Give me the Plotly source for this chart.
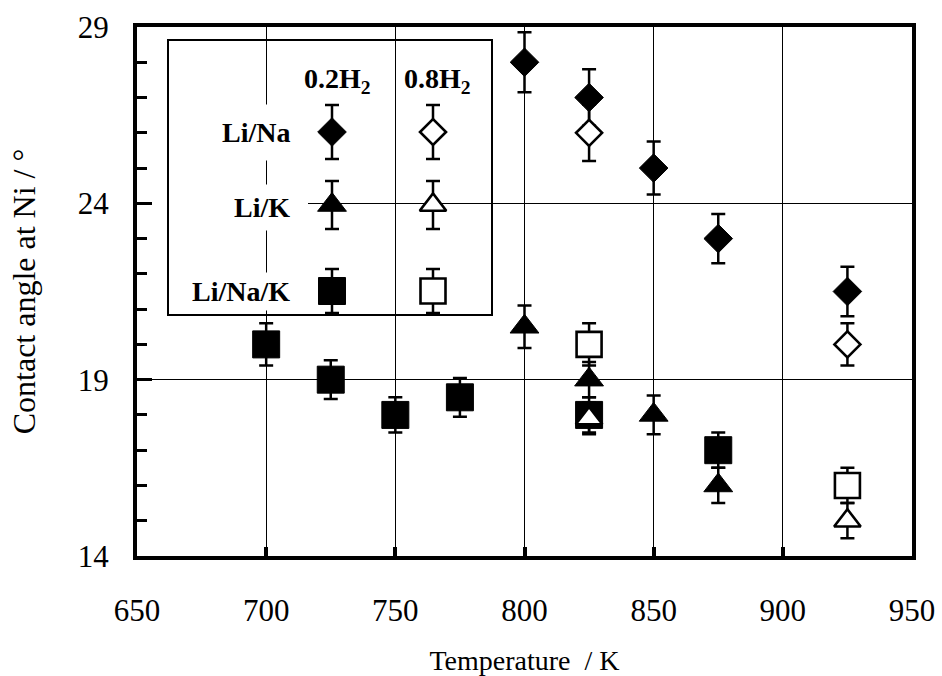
import plotly.graph_objects as go

# ---------------- data ----------------
# Li/Na, 0.2 H2 (filled diamonds)
t_na_02 = [800, 825, 850, 875, 925]
a_na_02 = [28.0, 27.0, 25.0, 23.0, 21.5]
e_na_02 = [0.85, 0.8, 0.75, 0.7, 0.7]
# Li/Na, 0.8 H2 (open diamonds)
t_na_08 = [825, 925]
a_na_08 = [26.0, 20.0]
e_na_08 = [0.8, 0.6]
# Li/K, 0.2 H2 (filled triangles)
t_k_02 = [800, 825, 850, 875]
a_k_02 = [20.5, 19.0, 18.0, 16.0]
e_k_02 = [0.6, 0.5, 0.55, 0.5]
# Li/K, 0.8 H2 (open triangles)
t_k_08 = [825, 925]
a_k_08 = [17.9, 15.0]
e_k_08 = [0.45, 0.5]
# Li/Na/K, 0.2 H2 (filled squares)
t_nak_02 = [700, 725, 750, 775, 825, 875]
a_nak_02 = [20.0, 19.0, 18.0, 18.5, 18.0, 17.0]
e_nak_02 = [0.6, 0.55, 0.5, 0.55, 0.5, 0.5]
# Li/Na/K, 0.8 H2 (open squares)
t_nak_08 = [825, 925]
a_nak_08 = [20.0, 16.0]
e_nak_08 = [0.6, 0.5]

x_ticks = [650, 700, 750, 800, 850, 900, 950]
y_ticks = [14, 19, 24, 29]
row_labels = ["Li/Na", "Li/K", "Li/Na/K"]
col_labels = ["0.2H<sub>2</sub>", "0.8H<sub>2</sub>"]

# ---------------- styling ----------------
FONT = "Liberation Serif"
W, H = 942, 676
ML, MR, MT, MB = 137, 30, 27, 120
PX_L, PX_R, PX_T, PX_B = ML, W - MR, MT, H - MB
X_RANGE = [650, 950]
Y_RANGE = [14, 29]

def px_to_x(px):
    return X_RANGE[0] + (px - PX_L) / (PX_R - PX_L) * (X_RANGE[1] - X_RANGE[0])

def py_to_y(py):
    return Y_RANGE[0] + (PX_B - py) / (PX_B - PX_T) * (Y_RANGE[1] - Y_RANGE[0])

ERR = dict(type="data", color="black", thickness=2.5, width=7)

def style(symbol, filled, size):
    if filled:
        return dict(symbol=symbol, size=size, color="black",
                    line=dict(color="black", width=1))
    return dict(symbol=symbol, size=size - 2, color="white",
                line=dict(color="black", width=2.6))

series = [
    (t_nak_02, a_nak_02, e_nak_02, "square", True, 27, "Li/Na/K 0.2H2"),
    (t_nak_08, a_nak_08, e_nak_08, "square", False, 27, "Li/Na/K 0.8H2"),
    (t_k_02, a_k_02, e_k_02, "triangle-up", True, 25, "Li/K 0.2H2"),
    (t_k_08, a_k_08, e_k_08, "triangle-up", False, 25, "Li/K 0.8H2"),
    (t_na_02, a_na_02, e_na_02, "diamond", True, 22, "Li/Na 0.2H2"),
    (t_na_08, a_na_08, e_na_08, "diamond", False, 22, "Li/Na 0.8H2"),
]

fig = go.Figure()

for xs, ys, es, sym, filled, size, name in series:
    fig.add_trace(go.Scatter(
        x=xs, y=ys, mode="markers", name=name, showlegend=False,
        marker=style(sym, filled, size),
        error_y=dict(array=es, **ERR),
        cliponaxis=False,
    ))

# ---------------- custom legend (pixel overlay axes) ----------------
leg_cols = [332, 433]
leg_rows = [132, 205, 291]
leg_err = [27, 24, 22]
leg_sym = [("diamond", 22), ("triangle-up", 25), ("square", 27)]
for r, (sym, size) in enumerate(leg_sym):
    for c, filled in enumerate([True, False]):
        fig.add_trace(go.Scatter(
            x=[leg_cols[c]], y=[leg_rows[r]], xaxis="x2", yaxis="y2",
            mode="markers", showlegend=False, hoverinfo="skip",
            marker=style(sym, filled, size),
            error_y=dict(type="data", array=[leg_err[r]], color="black",
                         thickness=2.5, width=7),
            cliponaxis=False,
        ))

annotations = []
label_pads = [12, 7, 3]
for r, lab in enumerate(row_labels):
    annotations.append(dict(
        x=291 + label_pads[r], y=leg_rows[r] + (2 if r == 1 else 0),
        xref="x2", yref="y2",
        text="<b>%s</b>" % lab, showarrow=False, xanchor="right", yanchor="middle",
        font=dict(family=FONT, size=28, color="black"),
        bgcolor="white", borderpad=label_pads[r]))
for c, lab in enumerate(col_labels):
    annotations.append(dict(
        x=[337, 437][c], y=80, xref="x2", yref="y2",
        text="<b>%s</b>" % lab, showarrow=False, xanchor="center", yanchor="middle",
        font=dict(family=FONT, size=28, color="black")))

shapes = [
    dict(type="rect", xref="x2", yref="y2", x0=168, x1=492, y0=40, y1=315,
         line=dict(color="black", width=2), fillcolor="rgba(0,0,0,0)", layer="above"),
    # white strip hiding the 24-gridline behind the legend labels (main axes)
    dict(type="rect", xref="x", yref="y", x0=px_to_x(PX_L + 3), x1=px_to_x(308),
         y0=py_to_y(208), y1=py_to_y(199),
         line=dict(width=0), fillcolor="white", layer="between"),
]

axis_common = dict(
    showline=True, linecolor="black", linewidth=4, mirror=True,
    showgrid=True, gridcolor="black", gridwidth=1.4, zeroline=False,
    ticks="inside", tickcolor="black", automargin=False,
    tickfont=dict(family=FONT, size=31, color="black"),
)

fig.update_layout(
    width=W, height=H,
    margin=dict(l=ML, r=MR, t=MT, b=MB),
    paper_bgcolor="white", plot_bgcolor="white",
    showlegend=False,
    font=dict(family=FONT, color="black"),
    xaxis=dict(
        range=X_RANGE, tickmode="array", tickvals=x_ticks,
        ticktext=[str(v) for v in x_ticks],
        ticklen=9, tickwidth=4, ticklabelstandoff=24,
        title=dict(text="Temperature  / K", standoff=24,
                   font=dict(family=FONT, size=28, color="black")),
        **axis_common),
    yaxis=dict(
        range=Y_RANGE, tickmode="array", tickvals=y_ticks,
        ticktext=[str(v) for v in y_ticks],
        ticklen=15, tickwidth=3, ticklabelstandoff=18,
        minor=dict(dtick=1, tick0=14, ticks="inside", ticklen=10, tickwidth=3,
                   tickcolor="black", showgrid=False),
        title=dict(text="Contact angle at Ni / °", standoff=34,
                   font=dict(family=FONT, size=32, color="black")),
        **axis_common),
    xaxis2=dict(range=[PX_L, PX_R], overlaying="x", anchor="y2", visible=False,
                fixedrange=True, automargin=False),
    yaxis2=dict(range=[PX_B, PX_T], overlaying="y", anchor="x2", visible=False,
                fixedrange=True, automargin=False),
    annotations=annotations,
    shapes=shapes,
)

fig.write_html("out.html")
